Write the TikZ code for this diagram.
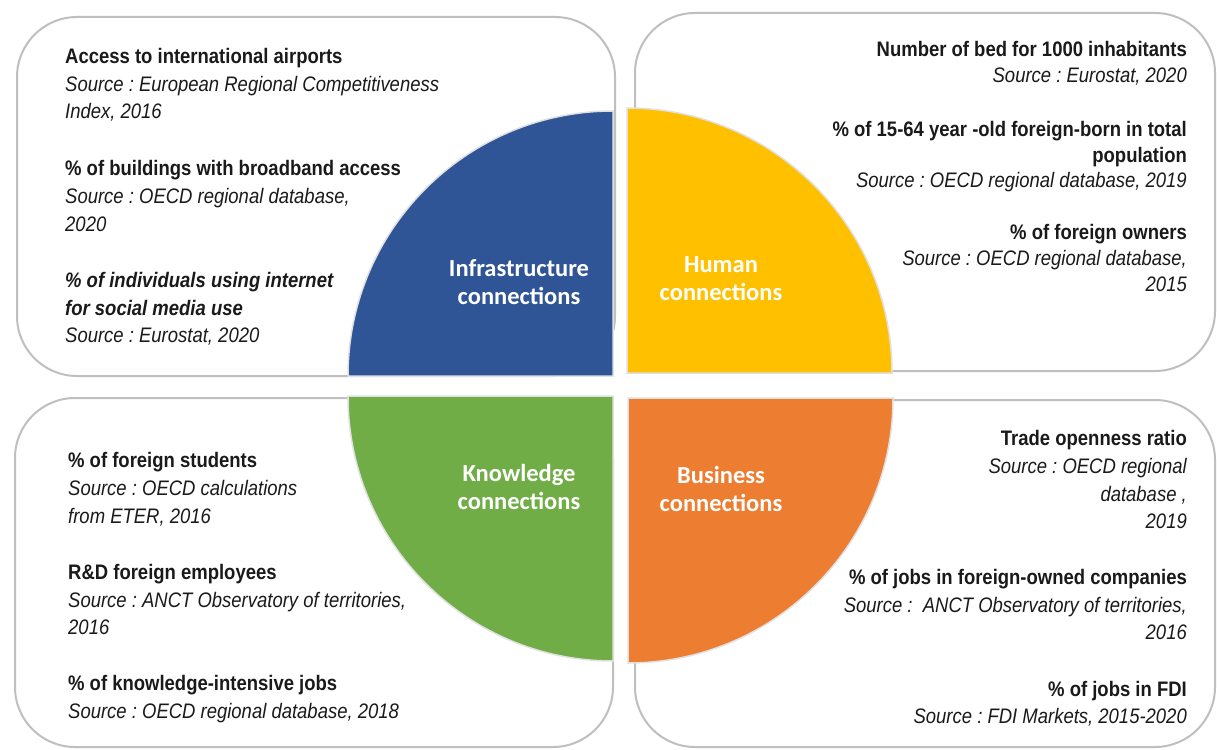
\documentclass[tikz,border=0pt]{standalone}
\usepackage{fontspec}
\setmainfont[FakeStretch=0.88]{Liberation Sans}
\newfontfamily\calib{Carlito}
\frenchspacing
\definecolor{qblue}{HTML}{2F5597}
\definecolor{qyellow}{HTML}{FFC000}
\definecolor{qgreen}{HTML}{70AD47}
\definecolor{qorange}{HTML}{ED7D31}
\definecolor{boxgray}{HTML}{BFBFBF}
\definecolor{txt}{HTML}{1A1A1A}
\begin{document}
\begin{tikzpicture}[x=1pt,y={(0pt,-1pt)},
  box/.style={draw=boxgray,line width=2pt,rounded corners=60pt,fill=white},
  quarter/.style={draw=white!88!black,line width=1.5pt},
  ln/.style={inner sep=0pt,text=txt,font=\fontsize{21}{25}\selectfont},
  hd/.style={ln,font=\fontsize{21}{25}\selectfont\bfseries},
  hdi/.style={ln,font=\fontsize{21}{25}\selectfont\bfseries\itshape},
  src/.style={ln,font=\fontsize{21}{25}\selectfont\itshape},
  lw/.style={anchor=base west},
  le/.style={anchor=base east},
  qlabel/.style={text=white,align=center,font=\calib\bfseries\fontsize{24.5}{28}\selectfont}]
\useasboundingbox (0,0) rectangle (1217,749);
\fill[white] (0,0) rectangle (1217,749);
% boxes
\draw[box] (17,17) rectangle (615,376);
\draw[box] (635,13) rectangle (1215,371);
\draw[box] (15,398) rectangle (613,747);
\draw[box] (635,400) rectangle (1215,747);
% quarters
\draw[quarter,fill=qblue] (613,376) -- (348,376) arc (180:270:265) -- cycle;
\draw[quarter,fill=qyellow] (627,373) -- (892,373) arc (0:-90:265) -- cycle;
\draw[quarter,fill=qgreen] (613,396) -- (348,396) arc (180:90:265) -- cycle;
\draw[quarter,fill=qorange] (628,398) -- (893,398) arc (0:90:265) -- cycle;
% quarter labels
\node[qlabel] (qinf) at (519,282) {Infrastructure\\connections};
\node[qlabel] (qhum) at (721,279) {Human\\connections};
\node[qlabel] (qkno) at (519,487) {Knowledge\\connections};
\node[qlabel] (qbus) at (721,489) {Business\\connections};
% top-left
\node[hd,lw] (tl1) at (65,64) {Access to international airports};
\node[src,lw] (tl2) at (65,92) {Source : European Regional Competitiveness};
\node[src,lw] (tl3) at (65,119) {Index, 2016};
\node[hd,lw] (tl4) at (65,175) {\% of buildings with broadband access};
\node[src,lw] (tl5) at (65,203) {Source : OECD regional database,};
\node[src,lw] (tl6) at (65,231) {2020};
\node[hdi,lw] (tl7) at (65,287) {\% of individuals using internet};
\node[hdi,lw] (tl8) at (65,315) {for social media use};
\node[src,lw] (tl9) at (65,342) {Source : Eurostat, 2020};
% top-right
\node[hd,le] (tr1) at (1187,57) {Number of bed for 1000 inhabitants};
\node[src,le] (tr2) at (1187,83) {Source : Eurostat, 2020};
\node[hd,le] (tr3) at (1187,136) {\% of 15-64 year -old foreign-born in total};
\node[hd,le] (tr4) at (1187,162) {population};
\node[src,le] (tr5) at (1187,187) {Source : OECD regional database, 2019};
\node[hd,le] (tr6) at (1187,239) {\% of foreign owners};
\node[src,le] (tr7) at (1187,265) {Source : OECD regional database,};
\node[src,le] (tr8) at (1187,291) {2015};
% bottom-left
\node[hd,lw] (bl1) at (68,467) {\% of foreign students};
\node[src,lw] (bl2) at (68,495) {Source : OECD calculations};
\node[src,lw] (bl3) at (68,523) {from ETER, 2016};
\node[hd,lw] (bl4) at (68,579) {R\&D foreign employees};
\node[src,lw] (bl5) at (68,607) {Source : ANCT Observatory of territories,};
\node[src,lw] (bl6) at (68,634) {2016};
\node[hd,lw] (bl7) at (68,690) {\% of knowledge-intensive jobs};
\node[src,lw] (bl8) at (68,718) {Source : OECD regional database, 2018};
% bottom-right
\node[hd,le] (br1) at (1187,445) {Trade openness ratio};
\node[src,le] (br2) at (1187,473) {Source : OECD regional};
\node[src,le] (br3) at (1187,501) {database ,};
\node[src,le] (br4) at (1187,528) {2019};
\node[hd,le] (br5) at (1187,584) {\% of jobs in foreign-owned companies};
\node[src,le] (br6) at (1187,612) {Source :\ \ ANCT Observatory of territories,};
\node[src,le] (br7) at (1187,639) {2016};
\node[hd,le] (br8) at (1187,696) {\% of jobs in FDI};
\node[src,le] (br9) at (1187,723) {Source : FDI Markets, 2015-2020};
\end{tikzpicture}
\end{document}
